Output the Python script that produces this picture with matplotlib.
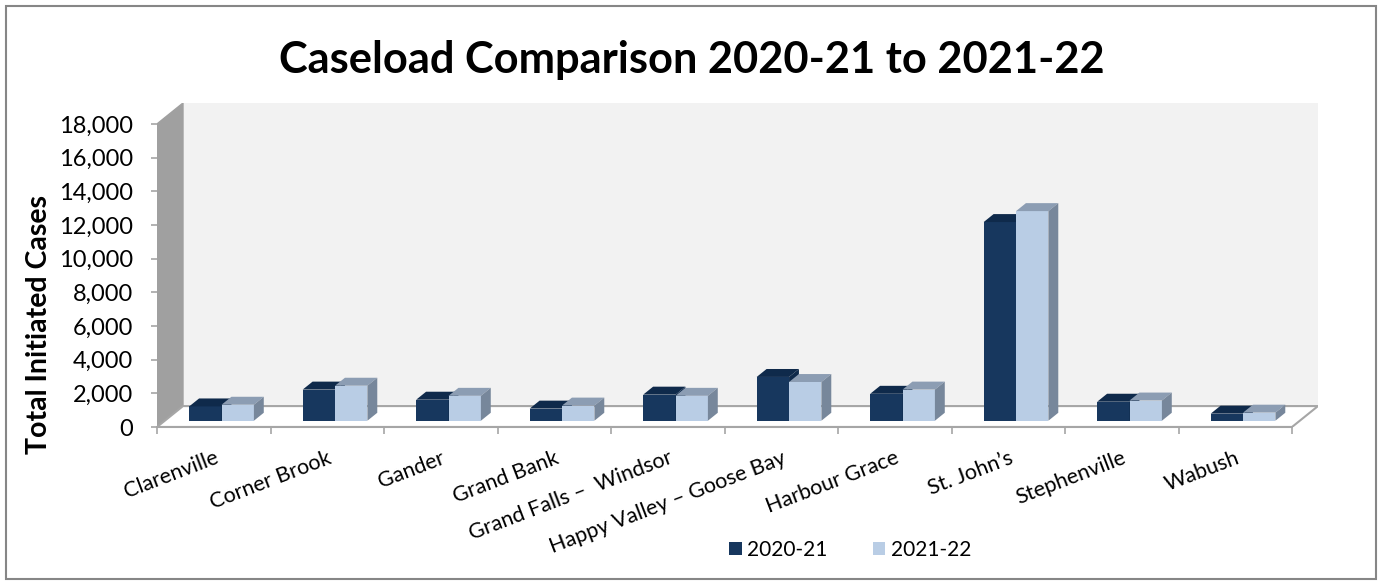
import matplotlib
matplotlib.use("Agg")
import matplotlib.pyplot as plt
from matplotlib.patches import Polygon, Rectangle
from matplotlib.ticker import FuncFormatter

# caseload data
offices = ["Clarenville", "Corner Brook", "Gander", "Grand Bank",
           "Grand Falls \u2013  Windsor", "Happy Valley \u2013 Goose Bay",
           "Harbour Grace", "St. John\u2019s", "Stephenville", "Wabush"]
cases_2020_21 = [850, 1850, 1250, 720, 1550, 2600, 1600, 11800, 1130, 420]
cases_2021_22 = [950, 2080, 1480, 900, 1480, 2300, 1850, 12450, 1200, 480]
series_labels = ["2020-21", "2021-22"]
y_ticks = list(range(0, 18001, 2000))

FONT = "Lato"
DARK = ("#17375E", "#0F2A4B", "#0F2A4B")      # front, top, side
LIGHT = ("#B9CDE5", "#8C9DB3", "#77879B")
GRID = "#A6A6A6"

# fake 3-D depth (in data units): back plane is shifted right and up
DX, DY = 0.229, 1243
F0, FD = 0.30, 0.38      # bar front depth fraction and bar depth fraction
BW = 0.285               # width of one bar, category units

W, H = 1382, 585
fig = plt.figure(figsize=(W / 100, H / 100), dpi=100)
fig.patches.append(Rectangle((6 / W, 6 / H), 1370 / W, 573 / H,
                             transform=fig.transFigure, fill=False,
                             edgecolor="#868686", lw=1.5))

ax = fig.add_axes([157 / W, (H - 427) / H, (1318 - 157) / W, (427 - 103) / H])
n = len(offices)
ymax = y_ticks[-1]
ax.set_xlim(0, n + DX)
ax.set_ylim(0, ymax + DY)
ax.patch.set_visible(False)
for s in ("top", "right"):
    ax.spines[s].set_visible(False)
ax.spines["left"].set_visible(False)
ax.spines["bottom"].set_bounds(0, n)
ax.spines["bottom"].set_color(GRID)
ax.spines["bottom"].set_linewidth(1.5)

# walls and floor
ax.add_patch(Polygon([(DX, DY), (n + DX, DY), (n + DX, ymax + DY), (DX, ymax + DY)],
                     closed=True, facecolor="#F2F2F2", edgecolor="none", zorder=0))
ax.add_patch(Polygon([(0, 0), (0, ymax), (DX, ymax + DY), (DX, DY)],
                     closed=True, facecolor="#A0A0A0", edgecolor="#A0A0A0", zorder=1))
ax.add_patch(Polygon([(0, 0), (n, 0), (n + DX, DY), (DX, DY)],
                     closed=True, facecolor="white", edgecolor=GRID, lw=1.5, zorder=1))

# bars: front face via ax.bar, top and side faces as polygons
fx, fy = F0 * DX, F0 * DY
bx, by = FD * DX, FD * DY
handles = []
for k, (vals, cols) in enumerate(((cases_2020_21, DARK), (cases_2021_22, LIGHT))):
    lefts = [i + 0.5 - BW + k * BW + fx for i in range(n)]
    bars = ax.bar(lefts, vals, width=BW, bottom=fy, align="edge",
                  color=cols[0], edgecolor="none", zorder=3 + k,
                  label=series_labels[k])
    handles.append(bars)
    for x0, v in zip(lefts, vals):
        x1, top = x0 + BW, fy + v
        ax.add_patch(Polygon([(x0, top), (x1, top), (x1 + bx, top + by), (x0 + bx, top + by)],
                             closed=True, facecolor=cols[1], edgecolor="none", zorder=3 + k))
        ax.add_patch(Polygon([(x1, fy), (x1, top), (x1 + bx, top + by), (x1 + bx, fy + by)],
                             closed=True, facecolor=cols[2], edgecolor="none", zorder=3 + k))

# y axis on the front edge of the side wall
ax.set_yticks(y_ticks)
ax.yaxis.set_major_formatter(FuncFormatter(lambda v, _: f"{int(v):,}"))
ax.tick_params(axis="y", length=4.5, width=1.2, color=GRID, pad=13,
               labelsize=17)
for lab in ax.get_yticklabels():
    lab.set_fontfamily(FONT)

# x axis: boundary ticks, labels at category centres
ax.set_xticks(range(n + 1))
ax.set_xticklabels([""] * (n + 1))
ax.tick_params(axis="x", which="major", length=5, width=1.2, color=GRID)
ax.set_xticks([i + 0.5 for i in range(n)], minor=True)
ax.set_xticklabels(offices, minor=True, rotation=21, ha="right",
                   rotation_mode="anchor", fontsize=15.5, fontfamily=FONT)
ax.tick_params(axis="x", which="minor", length=0, pad=15)

fig.text(692 / W, 1 - 60 / H, "Caseload Comparison 2020-21 to 2021-22",
         ha="center", va="center", fontsize=31.2, fontweight="bold",
         fontfamily=FONT)
fig.text(39 / W, 1 - 324 / H, "Total Initiated Cases", rotation=90,
         ha="center", va="center", fontsize=20.5, fontweight="bold",
         fontfamily=FONT)

fig.legend(handles=handles, labels=series_labels, loc="center",
           bbox_to_anchor=(850 / W, 1 - 550 / H), ncol=2, frameon=False,
           handlelength=0.6, handleheight=0.6, handletextpad=0.25,
           columnspacing=2.2, prop={"family": FONT, "size": 15})

fig.savefig("out.png", dpi=100)
